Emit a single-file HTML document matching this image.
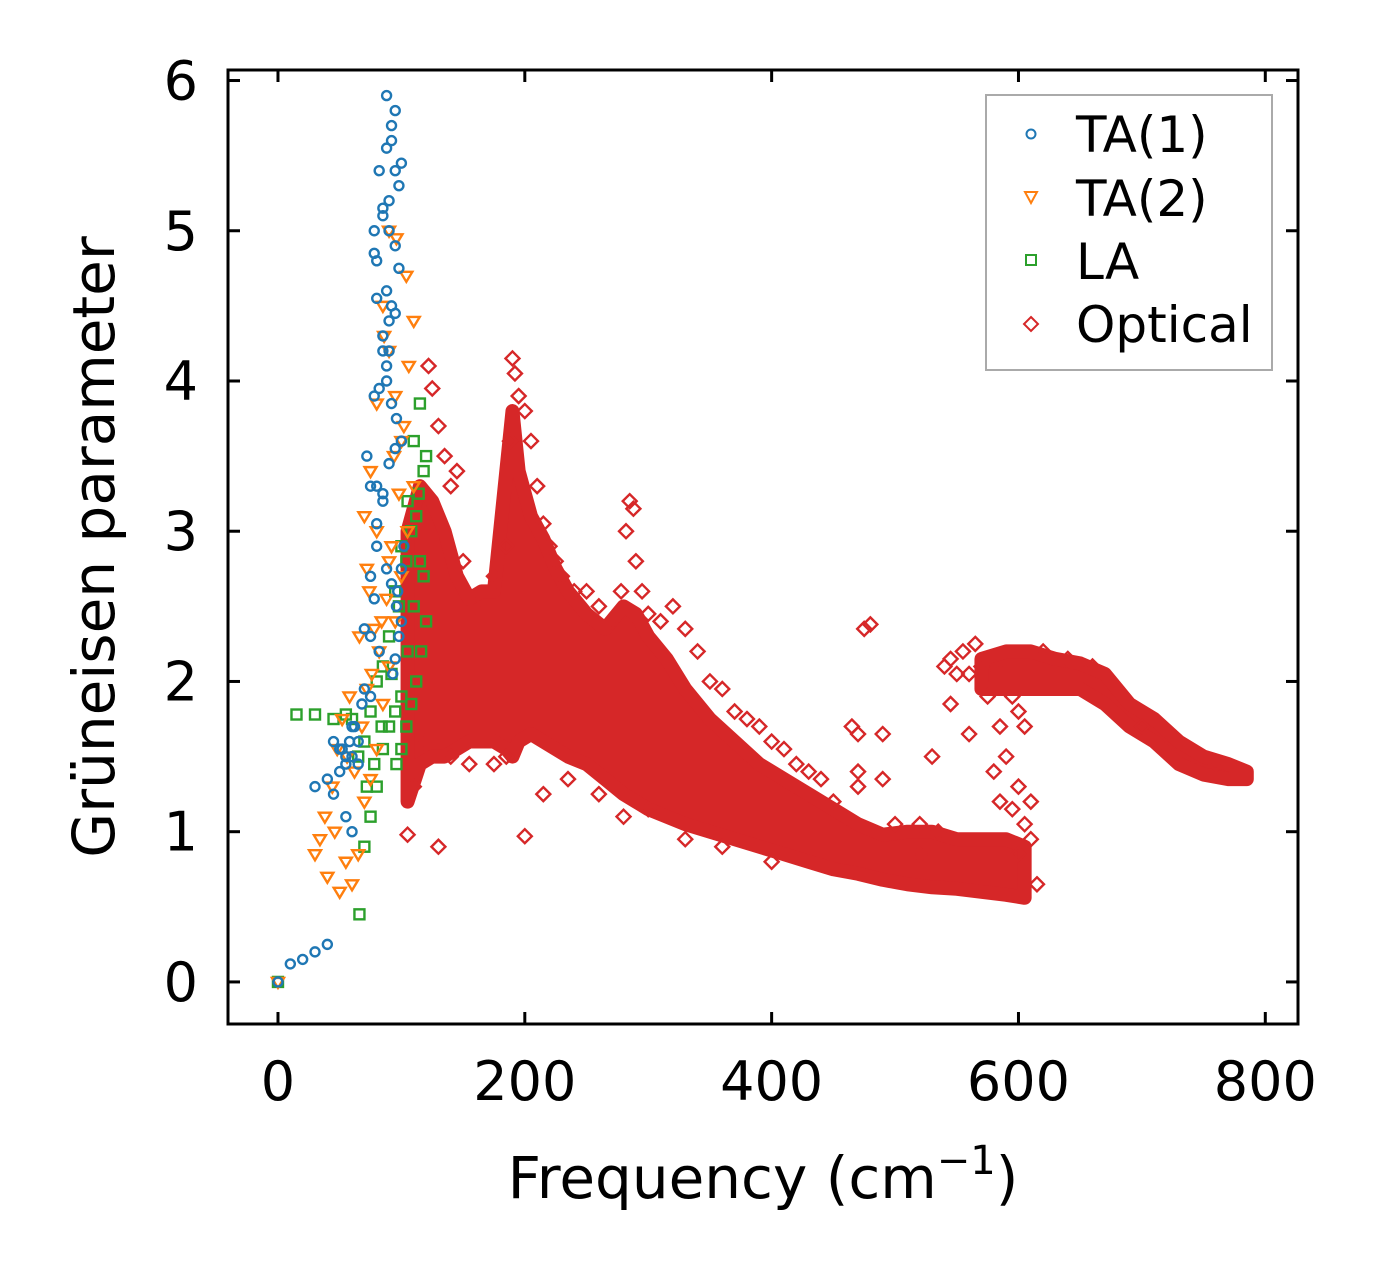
<!DOCTYPE html>
<html><head><meta charset="utf-8"><style>
html,body{margin:0;padding:0;background:#fff;}
svg{display:block;font-family:"DejaVu Sans","Liberation Sans",sans-serif;}
</style></head><body>
<svg id="chart" width="1382" height="1273" viewBox="0 0 1382 1273">
<rect width="1382" height="1273" fill="#fff"/>
<g id="bands"></g>
<g id="marks"></g>
<rect x="228" y="70" width="1070" height="954" fill="none" stroke="#000" stroke-width="3"/>
<g id="axes"></g>
<text x="763" y="1198" font-size="58" text-anchor="middle">Frequency (cm<tspan dy="-24" font-size="40">−1</tspan><tspan dy="24">)</tspan></text>
<text transform="translate(114,547) rotate(-90)" font-size="58" text-anchor="middle">Grüneisen parameter</text>
<g>
<rect x="986" y="95" width="286" height="275" fill="#fff" stroke="#aaa" stroke-width="2"/>
<circle cx="1031" cy="134" r="4.5" fill="none" stroke="#1f77b4" stroke-width="2"/>
<text x="1076" y="152" font-size="50">TA(1)</text>
<path d="M1025,192 L1037,192 L1031,203 Z" fill="none" stroke="#ff7f0e" stroke-width="2"/>
<text x="1076" y="216" font-size="50">TA(2)</text>
<rect x="1026" y="255" width="10" height="10" fill="none" stroke="#2ca02c" stroke-width="2"/>
<text x="1076" y="279" font-size="50">LA</text>
<path d="M1031,317 L1038,324 L1031,331 L1024,324 Z" fill="none" stroke="#d62728" stroke-width="2"/>
<text x="1076" y="342" font-size="50">Optical</text>
</g>
</svg>
<script>
const xTicks=[0,200,400,600,800];
const yTicks=[0,1,2,3,4,5,6];
const ta1X=[0,10,20,30,40,30,40,45,50,55,60,65,55,60,65,70,75,70,75,80,85,80,75,72,78,82,88,90,85,92,95,90,88,80,78,85,90,95,100,98,92,88,82,78,80,85,88,92,96,100,95,90,85,80,78,75,82,88,92,96,100,98,95,93,97,100,102,95,92,88,85,90,95,98,60,55,50,45,52,58,62,68];
const ta1Y=[0,0.12,0.15,0.2,0.25,1.3,1.35,1.6,1.55,1.5,1.7,1.45,1.1,1.0,1.6,1.95,1.9,2.35,2.7,2.9,3.2,3.3,3.3,3.5,3.9,3.95,4.1,4.2,4.3,4.5,4.45,4.4,4.6,4.8,5.0,5.1,5.2,5.4,5.45,5.3,5.6,5.55,5.4,4.85,4.55,4.2,4.0,3.85,3.75,3.6,3.55,3.45,3.25,3.05,2.55,2.3,2.2,2.75,2.65,2.5,2.4,2.3,2.15,2.05,2.6,2.75,2.9,5.8,5.7,5.9,5.15,5.0,4.9,4.75,1.5,1.45,1.4,1.25,1.55,1.6,1.7,1.85];
const ta2X=[0,30,40,50,55,60,65,70,75,80,85,90,95,100,105,110,100,95,90,85,80,75,70,72,78,82,88,92,98,102,106,110,104,96,90,86,80,74,66,58,52,48,44,38,34,46,56,62,68,72,76,84,90,94];
const ta2Y=[0,0.85,0.7,0.6,0.8,0.65,0.85,1.2,1.35,1.55,1.85,2.1,2.4,2.7,3.0,3.3,3.6,3.9,4.2,4.5,3.85,3.4,3.1,2.75,2.35,2.2,2.55,2.9,3.25,3.7,4.1,4.4,4.7,4.95,5.0,4.3,3.0,2.6,2.3,1.9,1.75,1.55,1.3,1.1,0.95,1.0,1.5,1.4,1.7,1.95,2.05,2.4,2.8,3.5];
const laX=[0,15,30,45,55,60,65,70,75,80,85,90,95,100,105,110,115,112,118,120,115,110,105,100,95,90,85,80,75,70,66,72,78,84,92,98,104,108,114,118,120,116,112,108,104,100,96];
const laY=[0,1.78,1.78,1.75,1.78,1.75,1.5,0.9,1.1,1.3,1.55,1.7,1.8,1.9,2.2,2.5,2.8,3.1,3.4,3.5,3.85,3.6,3.2,2.9,2.6,2.3,2.1,2.0,1.8,1.6,0.45,1.3,1.45,1.7,2.05,2.5,2.8,3.0,3.25,2.7,2.4,2.2,2.0,1.85,1.7,1.55,1.45];
const bandF=[105,115,125,135,145,155,165,175,185,190,195,205,215,225,235,250,265,280,290,300,315,330,350,370,390,410,430,450,470,490,510,530,550,570,590,605];
const bandLo=[1.2,1.45,1.5,1.5,1.55,1.6,1.6,1.6,1.55,1.5,1.6,1.65,1.6,1.55,1.5,1.45,1.35,1.25,1.2,1.15,1.1,1.05,1.0,0.95,0.9,0.85,0.8,0.75,0.72,0.68,0.65,0.63,0.62,0.6,0.58,0.56];
const bandHi=[3.0,3.3,3.2,3.0,2.7,2.55,2.6,2.6,3.4,3.8,3.4,3.1,2.95,2.75,2.6,2.45,2.35,2.5,2.45,2.3,2.15,1.95,1.75,1.6,1.45,1.35,1.25,1.15,1.05,0.98,1.0,1.0,0.95,0.95,0.95,0.9];
const band2F=[570,590,610,630,650,670,690,710,730,750,770,785];
const band2Lo=[1.95,1.95,1.95,1.95,1.95,1.85,1.7,1.6,1.45,1.38,1.35,1.35];
const band2Hi=[2.15,2.2,2.2,2.15,2.12,2.05,1.85,1.75,1.6,1.5,1.45,1.4];
const optX=[105,110,118,122,125,130,135,140,145,150,160,175,180,185,188,190,192,195,200,205,210,215,220,225,230,240,250,260,270,278,282,285,288,290,295,300,310,320,330,340,350,360,370,380,390,400,410,420,430,440,450,465,470,475,480,490,500,520,530,535,540,545,550,555,560,565,570,575,580,585,590,595,600,605,610,545,560,580,600,615,200,185,155,140,125,130,175,215,235,260,280,300,330,360,400,520,470,470,490,620,640,660,700,720,760,595,605,610,585,600];
const optY=[0.98,1.3,1.6,4.1,3.95,3.7,3.5,3.3,3.4,2.8,2.5,2.7,2.65,2.9,3.6,4.15,4.05,3.9,3.8,3.6,3.3,3.05,2.9,2.8,2.7,2.6,2.6,2.5,2.4,2.6,3.0,3.2,3.15,2.8,2.6,2.45,2.4,2.5,2.35,2.2,2.0,1.95,1.8,1.75,1.7,1.6,1.55,1.45,1.4,1.35,1.2,1.7,1.65,2.35,2.38,1.65,1.05,1.05,1.5,1.0,2.1,2.15,2.05,2.2,2.05,2.25,2.1,1.9,2.1,1.7,1.5,1.9,1.8,1.7,1.2,1.85,1.65,1.4,1.3,0.65,0.97,1.5,1.45,1.5,1.8,0.9,1.45,1.25,1.35,1.25,1.1,1.15,0.95,0.9,0.8,0.85,1.4,1.3,1.35,2.2,2.15,2.1,1.7,1.55,1.45,1.15,1.05,0.95,1.2,0.85];
const xMin=-40.5,xMax=826.5,yMin=-0.28,yMax=6.07;
const L=228,R=1298,T=70,B=1024;
function xs(v){return L+(v-xMin)/(xMax-xMin)*(R-L);}
function ys(v){return B-(v-yMin)/(yMax-yMin)*(B-T);}
const NS="http://www.w3.org/2000/svg";
const axes=document.getElementById('axes');
const marks=document.getElementById('marks');
const bands=document.getElementById('bands');
xTicks.forEach(t=>{
  const x=xs(t);
  [[B,B-12],[T,T+12]].forEach(p=>{
    const l=document.createElementNS(NS,'line');
    l.setAttribute('x1',x);l.setAttribute('x2',x);l.setAttribute('y1',p[0]);l.setAttribute('y2',p[1]);
    l.setAttribute('stroke','#000');l.setAttribute('stroke-width','3');
    
    
    axes.appendChild(l);
  });
  const tx=document.createElementNS(NS,'text');
  tx.setAttribute('x',x);tx.setAttribute('y',1100);tx.setAttribute('font-size','54');tx.setAttribute('text-anchor','middle');
  tx.textContent=t;
  
  
  axes.appendChild(tx);
});
yTicks.forEach(t=>{
  const y=ys(t);
  [[L,L+12],[R,R-12]].forEach(p=>{
    const l=document.createElementNS(NS,'line');
    l.setAttribute('x1',p[0]);l.setAttribute('x2',p[1]);l.setAttribute('y1',y);l.setAttribute('y2',y);
    l.setAttribute('stroke','#000');l.setAttribute('stroke-width','3');
    
    
    axes.appendChild(l);
  });
  const tx=document.createElementNS(NS,'text');
  tx.setAttribute('x',198);tx.setAttribute('y',y+19);tx.setAttribute('font-size','54');tx.setAttribute('text-anchor','end');
  tx.textContent=t;
  
  
  axes.appendChild(tx);
});
function band(F,Lo,Hi,name){
  let d='M'+F.map((f,i)=>xs(f)+','+ys(Hi[i])).join(' L');
  for(let i=F.length-1;i>=0;i--) d+=' L'+xs(F[i])+','+ys(Lo[i]);
  d+=' Z';
  const p=document.createElementNS(NS,'path');
  p.setAttribute('d',d);p.setAttribute('fill','#d62728');p.setAttribute('stroke','#d62728');p.setAttribute('stroke-width','14');p.setAttribute('stroke-linejoin','round');
  
  
  bands.appendChild(p);
}
band(bandF,bandLo,bandHi,'optical-main-band');
band(band2F,band2Lo,band2Hi,'optical-high-band');
function mk(kind,x,y){
  const cx=xs(x),cy=ys(y);let e;
  if(kind==='c'){e=document.createElementNS(NS,'circle');e.setAttribute('cx',cx);e.setAttribute('cy',cy);e.setAttribute('r',4.5);e.setAttribute('stroke','#1f77b4');}
  else if(kind==='t'){e=document.createElementNS(NS,'path');e.setAttribute('d',`M${cx-6},${cy-4} L${cx+6},${cy-4} L${cx},${cy+6} Z`);e.setAttribute('stroke','#ff7f0e');}
  else if(kind==='s'){e=document.createElementNS(NS,'rect');e.setAttribute('x',cx-5);e.setAttribute('y',cy-5);e.setAttribute('width',10);e.setAttribute('height',10);e.setAttribute('stroke','#2ca02c');}
  else {e=document.createElementNS(NS,'path');e.setAttribute('d',`M${cx},${cy-7} L${cx+7},${cy} L${cx},${cy+7} L${cx-7},${cy} Z`);e.setAttribute('stroke','#d62728');}
  e.setAttribute('fill','none');e.setAttribute('stroke-width','2.4');
  return e;
}
optX.forEach((x,i)=>{const e=mk('d',x,optY[i]);
  
  
  marks.appendChild(e);});
laX.forEach((x,i)=>{const e=mk('s',x,laY[i]);
  
  
  marks.appendChild(e);});
ta2X.forEach((x,i)=>{const e=mk('t',x,ta2Y[i]);
  
  
  marks.appendChild(e);});
ta1X.forEach((x,i)=>{const e=mk('c',x,ta1Y[i]);
  
  
  marks.appendChild(e);});
</script>
</body></html>
